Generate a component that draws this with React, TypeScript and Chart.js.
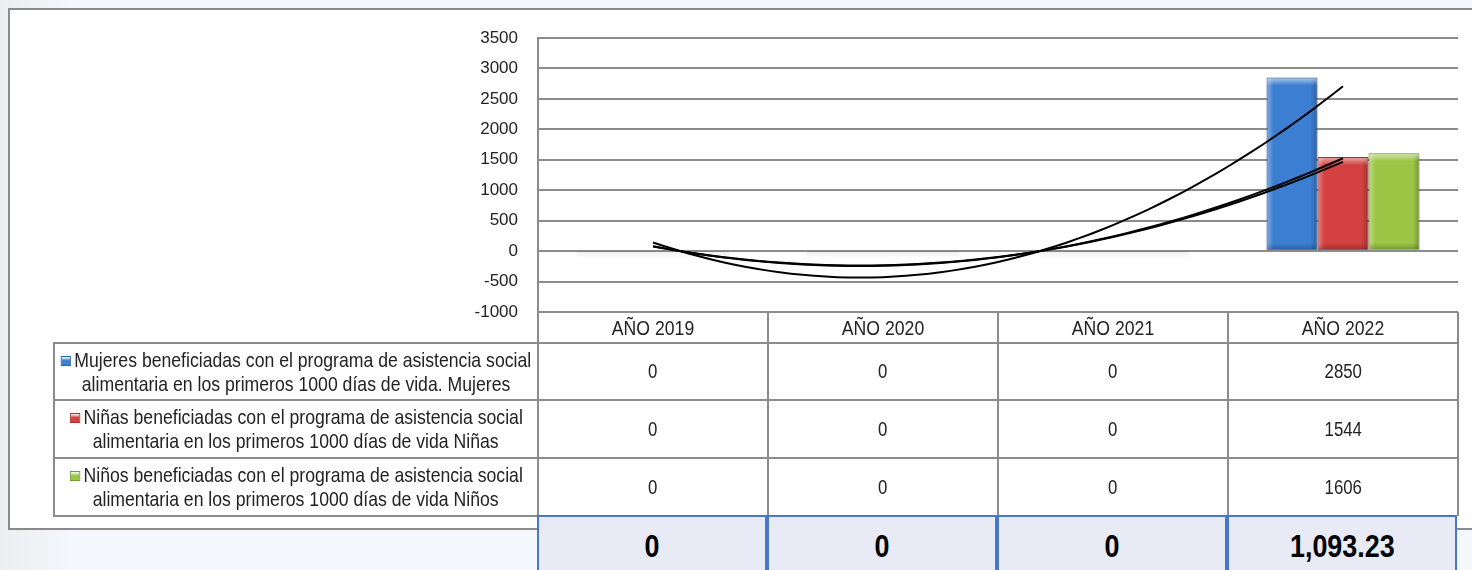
import React, { useEffect, useRef } from "react";
import { Chart, registerables } from "chart.js";

Chart.register(...registerables);

// ---------- data ----------
const categories = ["AÑO 2019", "AÑO 2020", "AÑO 2021", "AÑO 2022"];
const mujeres = [0, 0, 0, 2850];
const ninas = [0, 0, 0, 1544];
const ninos = [0, 0, 0, 1606];
const totals = ["0", "0", "0", "1,093.23"];
const seriesNames = [
  ["Mujeres beneficiadas con el programa de asistencia social", "alimentaria en los primeros 1000 días de vida. Mujeres"],
  ["Niñas beneficiadas con el programa de asistencia social", "alimentaria en los primeros 1000 días de vida Niñas"],
  ["Niños beneficiadas con el programa de asistencia social", "alimentaria en los primeros 1000 días de vida Niños"],
];
const yMin = -1000;
const yMax = 3500;
const yStep = 500;

const seriesValues = [mujeres, ninas, ninos];
const seriesColors = ["#3c7ed1", "#d34141", "#9bc646"];
const seriesEdges = ["#2d62a6", "#a83232", "#739a33"];

// ---------- layout / style ----------
const FONT = "'Liberation Sans', Arial, sans-serif";
const SQUEEZE = 0.84;
const GRID = "#8c8c8c";
const W = 1472;
const H = 570;
const PLOT_L = 538;
const PLOT_R = 1458;
const PLOT_T = 38;
const PLOT_B = 312;
const COL_W = (PLOT_R - PLOT_L) / categories.length;
const LEG_L = 54;
const ROW_TOPS = [343, 400, 458, 516];

// Excel-style 2nd order polynomial trendline (least squares on x = 1..n)
function polyFit2(vals: number[]) {
  const n = vals.length;
  const s = [0, 0, 0, 0, 0];
  const t = [0, 0, 0];
  for (let i = 0; i < n; i++) {
    const x = i + 1;
    for (let k = 0; k < 5; k++) s[k] += Math.pow(x, k);
    for (let k = 0; k < 3; k++) t[k] += vals[i] * Math.pow(x, k);
  }
  const A = [
    [s[0], s[1], s[2], t[0]],
    [s[1], s[2], s[3], t[1]],
    [s[2], s[3], s[4], t[2]],
  ];
  for (let c = 0; c < 3; c++) {
    for (let r = c + 1; r < 3; r++) {
      const f = A[r][c] / A[c][c];
      for (let k = c; k < 4; k++) A[r][k] -= f * A[c][k];
    }
  }
  const coef = [0, 0, 0];
  for (let r = 2; r >= 0; r--) {
    let v = A[r][3];
    for (let k = r + 1; k < 3; k++) v -= A[r][k] * coef[k];
    coef[r] = v / A[r][r];
  }
  return coef;
}

function trendPoints(vals: number[]) {
  const c = polyFit2(vals);
  const pts: { x: number; y: number }[] = [];
  const steps = 60;
  for (let i = 0; i <= steps; i++) {
    const idx = (i / steps) * (vals.length - 1);
    const x = idx + 1;
    pts.push({ x: idx, y: c[0] + c[1] * x + c[2] * x * x });
  }
  return pts;
}

const barPlugin = {
  id: "bevelBars",
  beforeDatasetDraw(chart: any, args: any) {
    if (args.meta.type !== "bar") return;
    const ctx = chart.ctx;
    ctx.save();
    ctx.shadowColor = "rgba(0,0,0,0.35)";
    ctx.shadowBlur = 7;
    ctx.shadowOffsetY = 4;
  },
  afterDatasetDraw(chart: any, args: any) {
    if (args.meta.type !== "bar") return;
    const ctx = chart.ctx;
    ctx.restore();
    ctx.save();
    args.meta.data.forEach((el: any) => {
      const { x, y, base, width } = el.getProps(["x", "y", "base", "width"], true);
      const left = x - width / 2 + 1;
      const right = x + width / 2 - 1;
      const top = Math.min(y, base) + 1;
      const bot = Math.max(y, base) - 1;
      const h = bot - top;
      const w = right - left;
      if (h < 1) {
        const g = ctx.createLinearGradient(0, base, 0, base + 7);
        g.addColorStop(0, "rgba(0,0,0,0.07)");
        g.addColorStop(1, "rgba(0,0,0,0)");
        ctx.fillStyle = g;
        ctx.fillRect(x - width / 2, base, width, 7);
        return;
      }
      const e = 6;
      let g = ctx.createLinearGradient(left, 0, left + e, 0);
      g.addColorStop(0, "rgba(255,255,255,0.32)");
      g.addColorStop(1, "rgba(255,255,255,0)");
      ctx.fillStyle = g;
      ctx.fillRect(left, top, e, h);
      g = ctx.createLinearGradient(right - e, 0, right, 0);
      g.addColorStop(0, "rgba(0,0,0,0)");
      g.addColorStop(1, "rgba(0,0,0,0.2)");
      ctx.fillStyle = g;
      ctx.fillRect(right - e, top, e, h);
      g = ctx.createLinearGradient(0, top, 0, top + e + 1);
      g.addColorStop(0, "rgba(255,255,255,0.5)");
      g.addColorStop(1, "rgba(255,255,255,0)");
      ctx.fillStyle = g;
      ctx.fillRect(left, top, w, e + 1);
      g = ctx.createLinearGradient(0, bot - e, 0, bot);
      g.addColorStop(0, "rgba(0,0,0,0)");
      g.addColorStop(1, "rgba(0,0,0,0.22)");
      ctx.fillStyle = g;
      ctx.fillRect(left, bot - e, w, e);
    });
    ctx.restore();
  },
};

function Marker({ color, edge }: { color: string; edge: string }) {
  return (
    <span
      style={{
        display: "inline-block",
        width: 12,
        height: 10,
        marginRight: 4,
        verticalAlign: "1px",
        background: `linear-gradient(180deg, rgba(255,255,255,0.65), ${color} 45%, ${color})`,
        border: `1px solid ${edge}`,
        boxSizing: "border-box",
      }}
    />
  );
}

function Sq({ children, size = 21, bold = false }: { children: React.ReactNode; size?: number; bold?: boolean }) {
  return (
    <span
      style={{
        display: "inline-block",
        whiteSpace: "nowrap",
        transform: `scaleX(${SQUEEZE})`,
        transformOrigin: "center",
        fontSize: size,
        fontWeight: bold ? "bold" : "normal",
      }}
    >
      {children}
    </span>
  );
}

const commonLayout = { padding: { left: 0, top: PLOT_T, right: W - PLOT_R, bottom: H - PLOT_B } };

function yScale(visible: boolean): any {
  return {
    type: "linear",
    min: yMin,
    max: yMax,
    ticks: {
      stepSize: yStep,
      padding: 20,
      color: visible ? "#222222" : "rgba(0,0,0,0)",
      font: { family: FONT, size: 17 },
      callback: (v: any) => String(v),
    },
    grid: { display: visible, color: GRID, lineWidth: 2, drawTicks: false },
    border: { display: visible, color: GRID, width: 2 },
    afterFit: (s: any) => {
      s.width = PLOT_L;
    },
  };
}

export default function App() {
  const barRef = useRef<HTMLCanvasElement>(null);
  const lineRef = useRef<HTMLCanvasElement>(null);

  useEffect(() => {
    const c1 = barRef.current;
    const c2 = lineRef.current;
    if (!c1 || !c2) return;
    const barChart = new Chart(c1, {
      type: "bar",
      data: {
        labels: categories,
        datasets: seriesValues.map((vals, i) => ({
          label: seriesNames[i].join(" "),
          data: vals,
          backgroundColor: seriesColors[i],
          borderColor: seriesEdges[i],
          borderWidth: 1,
          categoryPercentage: 0.665,
          barPercentage: 1,
        })),
      },
      options: {
        animation: false,
        responsive: false,
        maintainAspectRatio: false,
        devicePixelRatio: 1,
        layout: commonLayout,
        plugins: { legend: { display: false }, tooltip: { enabled: false } },
        scales: {
          x: { type: "category", display: false, offset: true },
          y: yScale(true),
        },
      },
      plugins: [barPlugin],
    });
    const trendChart = new Chart(c2, {
      type: "line",
      data: {
        datasets: seriesValues.map((vals, i) => ({
          label: "Tendencia " + seriesNames[i][1],
          data: trendPoints(vals),
          borderColor: "#000000",
          borderWidth: 2,
          pointRadius: 0,
          fill: false,
          tension: 0,
        })),
      },
      options: {
        animation: false,
        responsive: false,
        maintainAspectRatio: false,
        devicePixelRatio: 1,
        layout: commonLayout,
        plugins: { legend: { display: false }, tooltip: { enabled: false } },
        scales: {
          x: { type: "linear", display: false, offset: false, min: -0.5, max: categories.length - 0.5 },
          y: yScale(false),
        },
      },
    });
    return () => {
      barChart.destroy();
      trendChart.destroy();
    };
  }, []);

  const line = (l: number, t: number, w: number, h: number, c = GRID) => (
    <div style={{ position: "absolute", left: l, top: t, width: w, height: h, background: c }} />
  );

  const txt: React.CSSProperties = {
    position: "absolute",
    fontFamily: FONT,
    fontSize: 21,
    color: "#222",
    display: "flex",
    alignItems: "center",
    justifyContent: "center",
    textAlign: "center",
  };

  const canvasStyle: React.CSSProperties = { position: "absolute", left: 0, top: 0, width: W, height: H };

  return (
    <div
      style={{
        position: "fixed",
        left: 0,
        top: 0,
        width: W,
        height: H,
        overflow: "hidden",
        background: "linear-gradient(90deg, #eceef1 0px, #f4f7fb 70px, #f4f7fb 100%)",
      }}
    >
      <div
        style={{
          position: "absolute",
          left: 8,
          top: 8,
          width: 1480,
          height: 518,
          border: "2px solid #8a8a8a",
          background: "#ffffff",
        }}
      />
      <canvas ref={barRef} width={W} height={H} style={canvasStyle} />
      <canvas ref={lineRef} width={W} height={H} style={canvasStyle} />

      {/* header row */}
      {categories.map((c, i) => (
        <div key={"h" + i} style={{ ...txt, left: PLOT_L + COL_W * i, top: PLOT_B, width: COL_W, height: ROW_TOPS[0] - PLOT_B }}>
          <Sq>{c}</Sq>
        </div>
      ))}
      {/* legend + values */}
      {seriesNames.map((nm, r) => (
        <React.Fragment key={"r" + r}>
          <div
            style={{
              ...txt,
              left: LEG_L,
              top: ROW_TOPS[r],
              width: PLOT_L - LEG_L,
              height: ROW_TOPS[r + 1] - ROW_TOPS[r],
              lineHeight: "24px",
              flexDirection: "column",
            }}
          >
            <Sq>
              <Marker color={seriesColors[r]} edge={seriesEdges[r]} />
              {nm[0]}
            </Sq>
            <Sq>{nm[1]}</Sq>
          </div>
          {seriesValues[r].map((v, i) => (
            <div
              key={"v" + r + i}
              style={{ ...txt, left: PLOT_L + COL_W * i, top: ROW_TOPS[r], width: COL_W, height: ROW_TOPS[r + 1] - ROW_TOPS[r] }}
            >
              <Sq size={20}>{String(v)}</Sq>
            </div>
          ))}
        </React.Fragment>
      ))}
      {/* table lines */}
      {[PLOT_L, ...categories.map((_, i) => PLOT_L + COL_W * (i + 1))].map((x, i) => (
        <React.Fragment key={"vl" + i}>{line(x - 1, PLOT_B, 2, ROW_TOPS[3] - PLOT_B)}</React.Fragment>
      ))}
      {line(LEG_L - 1, ROW_TOPS[0] - 1, 2, ROW_TOPS[3] - ROW_TOPS[0] + 1)}
      {ROW_TOPS.map((y, i) => (
        <React.Fragment key={"hl" + i}>{line(LEG_L - 1, y - 1, (i === 3 ? PLOT_L : PLOT_R + 1) - LEG_L + 1, 2)}</React.Fragment>
      ))}
      {/* totals row */}
      {totals.map((t, i) => (
        <div
          key={"t" + i}
          style={{
            ...txt,
            left: PLOT_L + COL_W * i - 1,
            top: ROW_TOPS[3] - 1,
            width: COL_W,
            height: 62,
            boxSizing: "border-box",
            border: "2px solid #4a77c8",
            background: "#e8ebf5",
            color: "#000",
            alignItems: "flex-start",
            paddingTop: 11,
            lineHeight: "36px",
          }}
        >
          <Sq size={32} bold>
            {t}
          </Sq>
        </div>
      ))}
    </div>
  );
}
